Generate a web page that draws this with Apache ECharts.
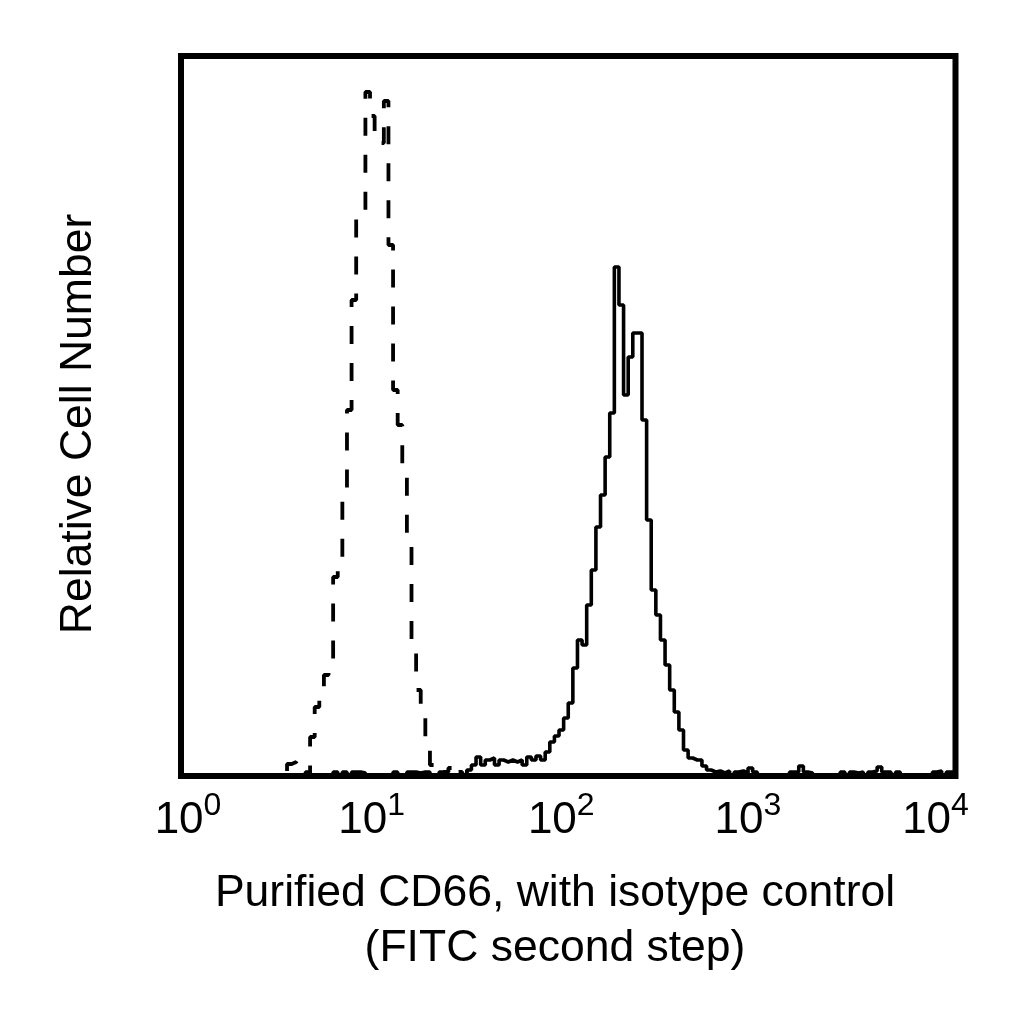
<!DOCTYPE html>
<html>
<head>
<meta charset="utf-8">
<script src="https://cdn.jsdelivr.net/npm/echarts@6/dist/echarts.min.js"></script>
<style>
html, body { margin: 0; background: #fff; }
#chart { width: 1024px; height: 1024px; }
</style>
</head>
<body>
<div id="chart"></div>
<script>
// histogram channels: 42 bins per decade, 10^0 .. 10^4
const binsPerDecade = 42
const decadeExp = ['0', '1', '2', '3', '4']

// isotype control (dashed)
const isotype = [
0,0,0,0,0,0,0,0,0,0,0,0,0,0,
0,0,0,0,0,0,0,0,0,12,14,0,0,0,
39,69,78,101,109,199,216,286,366,476,563,566,684,660,
633,633,675,531,386,351,311,231,126,86,61,29,11,0,
0,4,8,0,4,0,4,0,0,0,0,0,0,0,
0,0,0,0,0,0,0,0,0,0,0,0,0,0,
0,0,0,0,0,0,0,0,0,0,0,0,0,0,
0,0,0,0,0,0,0,0,0,0,0,0,0,0,
0,0,0,0,0,0,0,0,0,0,0,0,0,0,
0,0,0,0,0,0,0,0,0,0,0,0,0,0,
0,0,0,0,0,0,0,0,0,0,0,0,0,0,
0,0,0,0,0,0,0,0,0,0,0,0,0,0
]

// purified CD66 (solid)
const cd66 = [
0,0,0,0,0,0,0,0,0,0,0,0,0,0,
0,0,0,0,0,0,0,0,0,0,0,0,0,4,
0,0,0,0,0,4,0,4,0,4,4,3,0,0,
0,0,0,0,4,0,0,4,4,3,4,4,0,0,
4,0,0,0,0,0,6,11,19,11,16,18,11,16,
14,16,14,16,11,19,16,20,16,24,34,40,46,58,
73,108,136,131,171,206,249,281,319,363,509,471,381,419,
443,443,356,256,186,161,136,111,86,64,46,26,18,16,
16,10,6,4,5,3,5,0,4,5,3,8,4,0,
0,0,0,0,0,0,4,4,10,4,3,0,0,0,
0,0,0,4,0,4,3,4,0,4,5,9,4,4,
0,4,0,0,0,0,0,0,0,4,5,0,4,4
]

const font = '"Liberation Sans", Arial, sans-serif'
// nudges for the tick labels, the original ones are not centred on the ticks
const labelShift = [7, -3, -7, -14, -20]

function steps(counts) {
    const pts = counts.map((c, i) => [Math.pow(10, i / binsPerDecade), c])
    pts.push([Math.pow(10, counts.length / binsPerDecade), counts[counts.length - 1]])
    return pts
}

const rich = {}
labelShift.forEach((sh, e) => {
    rich['b' + e] = { fontSize: 44, lineHeight: 44, color: '#000', fontFamily: font, padding: [0, 0, 0, sh > 0 ? sh * 2 : 0] }
    rich['s' + e] = { fontSize: 32, lineHeight: 32, color: '#000', fontFamily: font, padding: [0, sh < 0 ? -sh * 2 : 0, 29, 0] }
})

const chart = echarts.init(document.getElementById('chart'))
chart.setOption({
    animation: false,
    backgroundColor: '#fff',
    title: {
        text: 'Purified CD66, with isotype control\n(FITC second step)',
        left: 550,
        top: 861,
        textAlign: 'center',
        textStyle: { fontSize: 44.5, fontWeight: 'normal', lineHeight: 55, color: '#000', fontFamily: font }
    },
    grid: {
        left: 181, right: 68.5, top: 56, bottom: 248,
        show: true, borderColor: '#000', borderWidth: 6, backgroundColor: 'transparent'
    },
    xAxis: {
        type: 'log',
        logBase: 10,
        min: 1,
        max: 10000,
        axisLine: { show: false },
        axisTick: { show: false },
        splitLine: { show: false },
        minorTick: { show: false },
        axisLabel: {
            margin: 23,
            hideOverlap: false,
            showMinLabel: true,
            showMaxLabel: true,
            formatter: function (v) {
                const e = Math.round(Math.log10(v))
                return '{b' + e + '|10}{s' + e + '|' + decadeExp[e] + '}'
            },
            rich: rich
        }
    },
    yAxis: {
        type: 'value',
        min: 0,
        max: 720,
        name: 'Relative Cell Number',
        nameLocation: 'middle',
        nameRotate: 90,
        nameGap: 80,
        nameTextStyle: { fontSize: 44.5, color: '#000', fontFamily: font, padding: [0, 16, 0, 0] },
        axisLine: { show: false },
        axisTick: { show: false },
        axisLabel: { show: false },
        splitLine: { show: false }
    },
    series: [
        {
            name: 'Isotype control',
            type: 'line',
            step: 'end',
            data: steps(isotype),
            symbol: 'none',
            lineStyle: { color: '#000', width: 3.8, type: [18, 19] }
        },
        {
            name: 'CD66',
            type: 'line',
            step: 'end',
            data: steps(cd66),
            symbol: 'none',
            lineStyle: { color: '#000', width: 3.6 }
        }
    ]
})
</script>
</body>
</html>
